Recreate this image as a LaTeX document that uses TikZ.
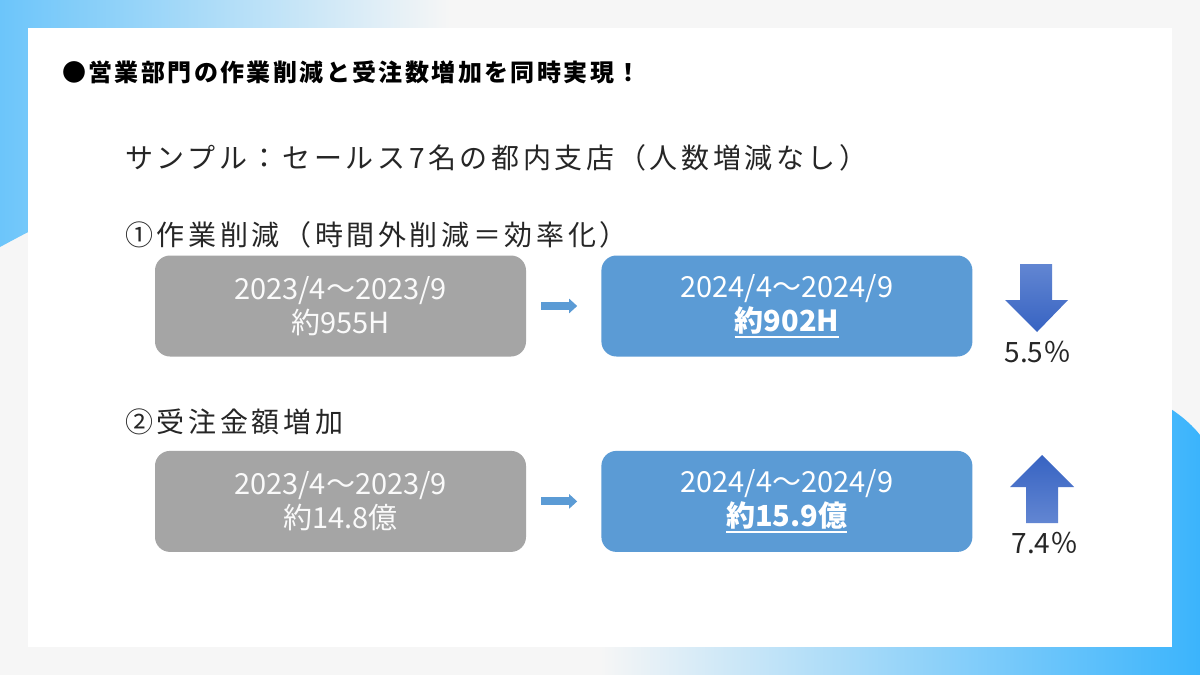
\documentclass[tikz,border=0pt]{standalone}
\usepackage{fontspec}
\setmainfont{Noto Sans CJK JP}
\newfontfamily\headfont[LetterSpace=13]{Noto Sans CJK JP}
\newfontfamily\titlefont[LetterSpace=10]{Noto Sans CJK JP}
\usetikzlibrary{positioning,arrows.meta}
\definecolor{boxgray}{HTML}{A5A5A5}
\definecolor{boxblue}{HTML}{5B9BD5}
\definecolor{bgblue}{HTML}{3BB4FC}
\definecolor{cornerblue}{HTML}{6CC5FA}
\definecolor{bggray}{HTML}{F6F6F6}
\definecolor{arrowdark}{HTML}{3763C2}
\definecolor{arrowlight}{HTML}{6286D2}
\definecolor{headtext}{HTML}{262626}
% underlined value
\newcommand\valline[1]{\leavevmode\vtop{\hbox{#1}\kern2pt\hrule height 1.6pt}}

\begin{document}
\begin{tikzpicture}[x=1pt,y=-1pt,
    period/.style={rounded corners=15pt, minimum width=371pt, minimum height=101pt,
      align=center, inner sep=0pt, font=\fontsize{29}{34}\selectfont},
    before/.style={period, fill=boxgray, text=white!94!boxgray},
    after/.style={period, fill=boxblue, text=white},
    heading/.style={anchor=west, inner sep=0pt, text=headtext,
      font=\headfont\fontsize{28}{32}\selectfont},
    flow/.style={draw=boxblue, line width=8pt,
      -{Triangle[length=8pt,width=14pt]}, shorten <=15pt, shorten >=24pt},
    pct/.style={inner sep=0pt, text=headtext, font=\fontsize{28}{32}\selectfont}]
    \useasboundingbox (0,0) rectangle (1200,675);

    % background and panel
    \fill[bggray] (0,0) rectangle (1200,675);
    \shade[left color=cornerblue, right color=bggray]
      (0,0) -- (450,0) -- (450,60) -- (40,60) -- (40,226)
      .. controls (26,233) and (13,240) .. (0,247) -- cycle;
    \shade[left color=bggray, right color=bgblue]
      (600,640) -- (1160,640) -- (1160,403)
      .. controls (1173,409) and (1190,422) .. (1200,435)
      -- (1200,675) -- (600,675) -- cycle;
    \fill[white] (28,28) rectangle (1172,647);

    \node[anchor=west, inner sep=0pt, font=\titlefont\bfseries\fontsize{24}{28}\selectfont]
      (title) at (62,72) {●営業部門の作業削減と受注数増加を同時実現！};

    \node[heading] (sample) at (125,158) {サンプル：セールス7名の都内支店（人数増減なし）};
    \node[heading] (work) at (125,235) {①作業削減（時間外削減＝効率化）};
    \node[heading] (order) at (125,422) {②受注金額増加};

    % periods
    \node[before] (g1) at (340.5,306) {2023/4～2023/9\\約955H};
    \node[after, right=75pt of g1] (b1) {2024/4～2024/9\\\valline{\bfseries 約902H}};
    \node[before, below=94pt of g1] (g2) {2023/4～2023/9\\約14.8億};
    \node[after, right=75pt of g2] (b2) {2024/4～2024/9\\\valline{\bfseries 約15.9億}};

    \draw[flow] (g1) -- (b1);
    \draw[flow] (g2) -- (b2);

    % change arrows
    \shade[top color=arrowlight, bottom color=arrowdark]
      (1020,264) -- (1052,264) -- (1052,300) -- (1068,300) -- (1037,332)
      -- (1005,300) -- (1020,300) -- cycle;
    \node[pct] (down) at (1038,352) {5.5％};
    \shade[top color=arrowdark, bottom color=arrowlight]
      (1026,523) -- (1058,523) -- (1058,487) -- (1074,487) -- (1042,455)
      -- (1010,487) -- (1026,487) -- cycle;
    \node[pct] (up) at (1045,543) {7.4％};
\end{tikzpicture}
\end{document}
